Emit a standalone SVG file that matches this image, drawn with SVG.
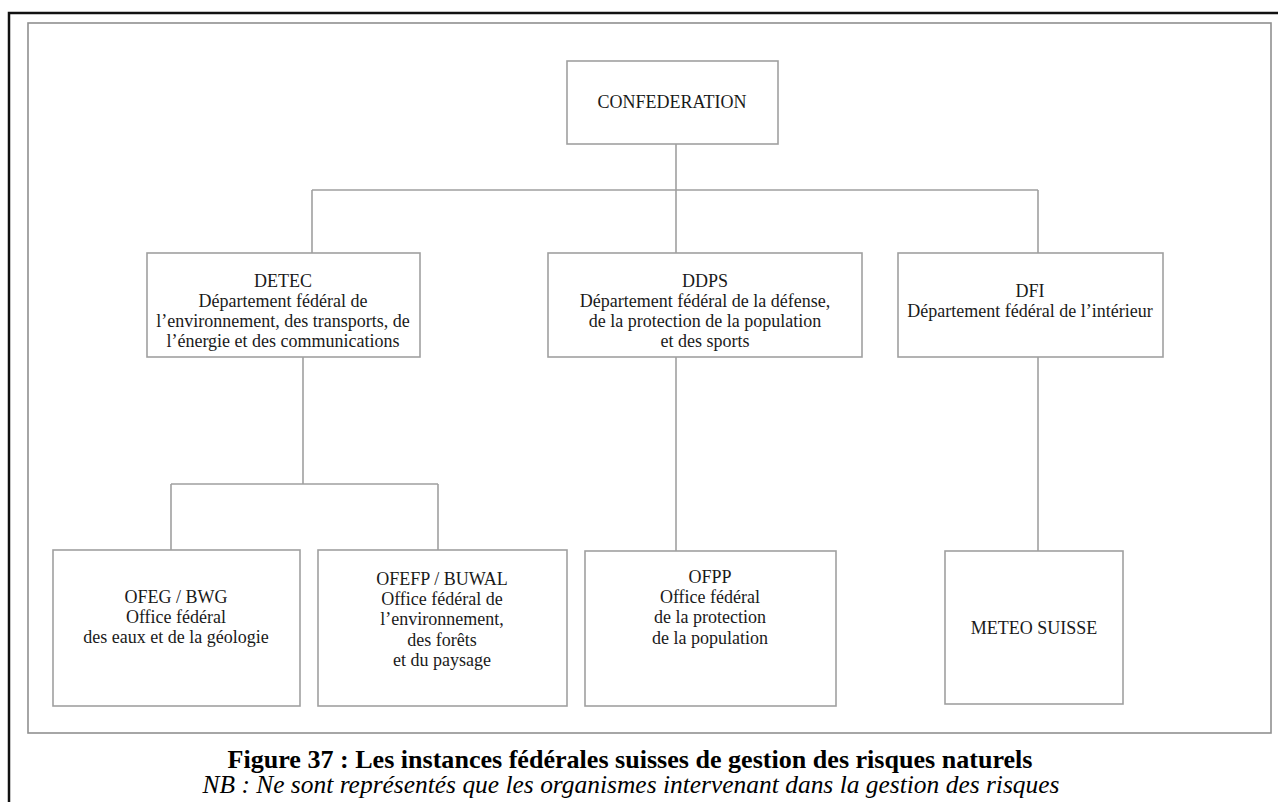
<svg xmlns="http://www.w3.org/2000/svg" width="1278" height="802" viewBox="0 0 1278 802">
<style>
.box{fill:#fff;stroke:#a0a0a0;stroke-width:1.6}
.t{font-family:"Liberation Serif","Times New Roman",serif;font-size:18px;fill:#1a1a1a;text-anchor:middle}
.con{fill:none;stroke:#a0a0a0;stroke-width:1.6}
.cap{font-family:"Liberation Serif","Times New Roman",serif;font-size:25px;fill:#000;text-anchor:middle}
</style>
<rect width="1278" height="802" fill="#fff"/>
<path d="M9,802 V13 H1278" fill="none" stroke="#111" stroke-width="2.5"/>
<rect x="28" y="23" width="1243" height="710" fill="#fff" stroke="#909090" stroke-width="1.6"/>
<g id="connectors">
<path class="con" d="M676,144 V190 M312,190 H1038 M312,190 V253 M676,190 V253 M1038,190 V253"/>
<path class="con" d="M303,357 V484 M171,484 H438 M171,484 V550 M438,484 V550"/>
<path class="con" d="M676,357 V551"/>
<path class="con" d="M1038,357 V551"/>
</g>
<g id="confederation">
<rect class="box" x="567" y="61" width="211" height="83"/>
<text class="t" x="672" y="108">CONFEDERATION</text>
</g>
<g id="detec">
<rect class="box" x="147" y="253" width="273" height="104"/>
<text class="t" x="283" y="287">DETEC</text>
<text class="t" x="283" y="307">Département fédéral de</text>
<text class="t" x="283" y="327">l’environnement, des transports, de</text>
<text class="t" x="283" y="347">l’énergie et des communications</text>
</g>
<g id="ddps">
<rect class="box" x="548" y="253" width="314" height="104"/>
<text class="t" x="705" y="287">DDPS</text>
<text class="t" x="705" y="307">Département fédéral de la défense,</text>
<text class="t" x="705" y="327">de la protection de la population</text>
<text class="t" x="705" y="347">et des sports</text>
</g>
<g id="dfi">
<rect class="box" x="898" y="253" width="265" height="104"/>
<text class="t" x="1030" y="297">DFI</text>
<text class="t" x="1030" y="317">Département fédéral de l’intérieur</text>
</g>
<g id="ofeg">
<rect class="box" x="53" y="550" width="247" height="156"/>
<text class="t" x="176" y="603">OFEG / BWG</text>
<text class="t" x="176" y="623">Office fédéral</text>
<text class="t" x="176" y="643">des eaux et de la géologie</text>
</g>
<g id="ofefp">
<rect class="box" x="318" y="550" width="249" height="156"/>
<text class="t" x="442" y="585">OFEFP / BUWAL</text>
<text class="t" x="442" y="605">Office fédéral de</text>
<text class="t" x="442" y="625">l’environnement,</text>
<text class="t" x="442" y="646">des forêts</text>
<text class="t" x="442" y="666">et du paysage</text>
</g>
<g id="ofpp">
<rect class="box" x="585" y="551" width="251" height="155"/>
<text class="t" x="710" y="583">OFPP</text>
<text class="t" x="710" y="603">Office fédéral</text>
<text class="t" x="710" y="623">de la protection</text>
<text class="t" x="710" y="644">de la population</text>
</g>
<g id="meteo">
<rect class="box" x="945" y="551" width="178" height="153"/>
<text class="t" x="1034" y="634">METEO SUISSE</text>
</g>
<g id="caption">
<text class="cap" x="630" y="768" font-weight="bold" textLength="805" lengthAdjust="spacingAndGlyphs">Figure 37 : Les instances fédérales suisses de gestion des risques naturels</text>
<text class="cap" x="631" y="793" font-style="italic" textLength="857" lengthAdjust="spacingAndGlyphs">NB : Ne sont représentés que les organismes intervenant dans la gestion des risques</text>
</g>
</svg>
